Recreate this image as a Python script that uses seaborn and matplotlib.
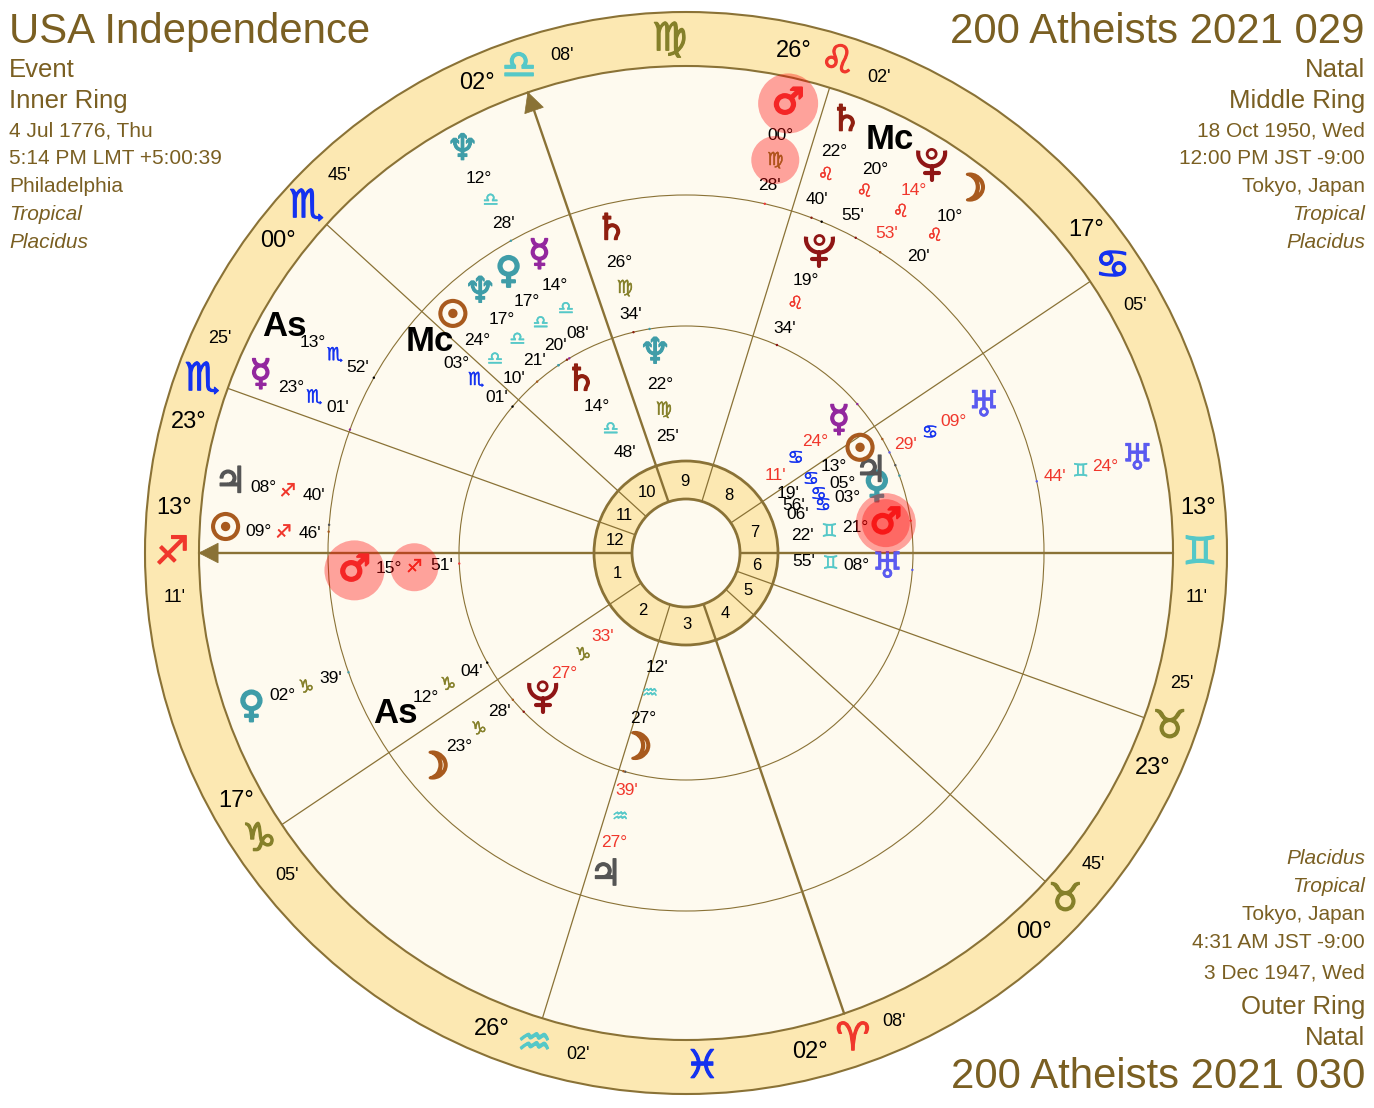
import numpy as np
import pandas as pd
import matplotlib.pyplot as plt
import matplotlib.patheffects as pe
import seaborn as sns
from matplotlib.patches import Arc, Circle, Polygon

# Zodiac order, used to turn sign + degree + minute into a longitude
signs = ['♈', '♉', '♊', '♋', '♌', '♍', '♎', '♏', '♐', '♑', '♒', '♓']

# House cusps 1 to 12
cusp_signs = ['♐', '♑', '♒', '♈', '♉', '♉', '♊', '♋', '♌', '♎', '♏', '♏']
cusp_deg = [13, 17, 26, 2, 0, 23, 13, 17, 26, 2, 0, 23]
cusp_min = [11, 5, 2, 8, 45, 25, 11, 5, 2, 8, 45, 25]
house_numbers = [str(i) for i in range(1, 13)]

# Outer ring: 200 Atheists 2021 030
outer_bodies = ['♂', '♄', 'Mc', '♇', '☽', '♅', '☉', '♃', '☿', 'As', '♆', '♀']
outer_deg = [0, 22, 20, 14, 10, 24, 9, 8, 23, 13, 12, 2]
outer_signs = ['♍', '♌', '♌', '♌', '♌', '♊', '♐', '♐', '♏', '♏', '♎', '♑']
outer_min = [28, 40, 55, 53, 20, 44, 46, 40, 1, 52, 28, 39]
outer_retro = [0, 0, 0, 1, 0, 1, 0, 0, 0, 0, 0, 0]

# Middle ring: 200 Atheists 2021 029
middle_bodies = ['♂', '♄', '☿', '♀', '♆', '☉', 'Mc', 'As', '☽', '♃', '♇', '♅']
middle_deg = [15, 26, 14, 17, 17, 24, 3, 12, 23, 27, 19, 9]
middle_signs = ['♐', '♍', '♎', '♎', '♎', '♎', '♏', '♑', '♑', '♒', '♌', '♋']
middle_min = [51, 34, 8, 20, 21, 10, 1, 4, 28, 39, 34, 29]
middle_retro = [0, 0, 0, 0, 0, 0, 0, 0, 0, 1, 0, 1]

# Inner ring: USA Independence
inner_bodies = ['♇', '☽', '♄', '♆', '♅', '♂', '♀', '♃', '☉', '☿']
inner_deg = [27, 27, 14, 22, 8, 21, 3, 5, 13, 24]
inner_signs = ['♑', '♒', '♎', '♍', '♊', '♊', '♋', '♋', '♋', '♋']
inner_min = [33, 12, 48, 25, 55, 22, 6, 56, 19, 11]
inner_retro = [1, 0, 0, 0, 0, 0, 0, 0, 0, 1]

# Header text
left_lines = ['USA Independence', 'Event', 'Inner Ring', '4 Jul 1776, Thu', '5:14 PM LMT +5:00:39',
              'Philadelphia', 'Tropical', 'Placidus']
right_lines = ['200 Atheists 2021 029', 'Natal', 'Middle Ring', '18 Oct 1950, Wed', '12:00 PM JST -9:00',
               'Tokyo, Japan', 'Tropical', 'Placidus']
bottom_lines = ['Placidus', 'Tropical', 'Tokyo, Japan', '4:31 AM JST -9:00', '3 Dec 1947, Wed',
                'Outer Ring', 'Natal', '200 Atheists 2021 030']

# Layout: angle each label stack is spread to, in degrees, and its radii in pixels
outer_angle = [77.2, 69.7, 63.7, 57.8, 51.9, 11.7, 177.1, 171.2, 157.3, 150.6, 119.0, 199.5]
middle_angle = [183.0, 103.0, 116.2, 122.3, 128.3, 134.6, 140.5, 209.0, 220.4, 256.0, 66.3, 26.2]
inner_angle = [224.8, 255.6, 121.3, 98.8, 355.8, 8.5, 19.1, 23.8, 30.5, 40.8]
outer_radii = (461, 428, 403, 377)
middle_radii = (332, 298, 272, 245)
inner_radii = (202, 171, 145, 118)

CX, CY = 686, 553
R_OUT, R_ZOD, R_MID, R_INN, R_WHEEL, R_HOLE = 541, 487, 358, 227, 92, 54

LINE = '#8a7236'
TITLE = '#7a5f22'
RING = '#fce8b2'
CREAM = '#fefaef'
RED = '#f0372c'

sign_colors = {'♈': '#f0372c', '♌': '#f0372c', '♐': '#f0372c',
               '♉': '#85802a', '♍': '#85802a', '♑': '#85802a',
               '♊': '#55c8c8', '♎': '#55c8c8', '♒': '#55c8c8',
               '♋': '#1432f0', '♏': '#1432f0', '♓': '#1432f0'}
body_colors = {'☉': '#a85a1e', '☽': '#a85a1e', '☿': '#93279e', '♀': '#3f9da8', '♂': '#ef3b3b',
               '♃': '#555555', '♄': '#8f1f10', '♅': '#5a5af0', '♆': '#3f9da8', '♇': '#8f1515',
               'As': '#000000', 'Mc': '#000000'}
# stroke added to each glyph, the open ones fill in quickly
body_weight = {'☉': 2.0, '☽': 2.0, '☿': 1.2, '♀': 1.5, '♂': 1.5, '♃': 1.0, '♄': 1.0, '♅': 0.4, '♆': 0.8}


def longitude(sign, deg, minute):
    return signs.index(sign) * 30 + deg + minute / 60


asc = longitude(cusp_signs[0], cusp_deg[0], cusp_min[0])


def chart_angle(lon):
    return (180 + lon - asc) % 360


def xy(angle, r):
    a = np.radians(angle)
    return CX + r * np.cos(a), CY - r * np.sin(a)


def heavy(width, color):
    return [pe.withStroke(linewidth=width, foreground=color)]


def draw_pluto(x, y, color):
    # the fonts here only have the PL monogram, this chart uses the orb and crescent form
    ax.add_patch(Circle((x, y - 9), 4.5, fc='none', ec=color, lw=2, zorder=8))
    ax.add_patch(Arc((x, y - 10), 27, 27, theta1=-10, theta2=190, ec=color, lw=3, zorder=8))
    ax.plot([x, x], [y + 3, y + 17], color=color, lw=3, solid_capstyle='round', zorder=8)
    ax.plot([x - 7, x + 7], [y + 10, y + 10], color=color, lw=3, solid_capstyle='round', zorder=8)


sns.set_theme(style='white')
plt.rcParams['font.family'] = ['Liberation Sans', 'DejaVu Sans']

fig = plt.figure(figsize=(13.74, 11.08), dpi=100)
ax = fig.add_axes([0, 0, 1, 1])
ax.set_xlim(0, 1374)
ax.set_ylim(1108, 0)
ax.set_axis_off()

# Rings
ax.add_patch(Circle((CX, CY), R_OUT, fc=RING, ec=LINE, lw=1.5, zorder=1))
ax.add_patch(Circle((CX, CY), R_ZOD, fc=CREAM, ec=LINE, lw=1.5, zorder=1))
ax.add_patch(Circle((CX, CY), R_MID, fc='none', ec=LINE, lw=0.8, zorder=2))
ax.add_patch(Circle((CX, CY), R_INN, fc='none', ec=LINE, lw=0.8, zorder=2))
ax.add_patch(Circle((CX, CY), R_WHEEL, fc=RING, ec=LINE, lw=2, zorder=3))
ax.add_patch(Circle((CX, CY), R_HOLE, fc=CREAM, ec=LINE, lw=2, zorder=5))

# Cusp spokes, the four angles are heavier
cusp_angles = [chart_angle(longitude(s, d, m)) for s, d, m in zip(cusp_signs, cusp_deg, cusp_min)]
rows = []
for i, ang in enumerate(cusp_angles):
    x0, y0 = xy(ang, R_HOLE)
    x1, y1 = xy(ang, R_ZOD)
    kind = 'heavy' if i in (0, 3, 6, 9) else 'thin'
    rows.append({'cusp': i, 'x': x0, 'y': y0, 'kind': kind})
    rows.append({'cusp': i, 'x': x1, 'y': y1, 'kind': kind})
spokes = pd.DataFrame(rows)
sns.lineplot(data=spokes[spokes.kind == 'thin'], x='x', y='y', units='cusp', estimator=None, sort=False,
             color=LINE, linewidth=0.9, ax=ax, zorder=4)
sns.lineplot(data=spokes[spokes.kind == 'heavy'], x='x', y='y', units='cusp', estimator=None, sort=False,
             color=LINE, linewidth=1.7, ax=ax, zorder=4)
ax.set_xlim(0, 1374)
ax.set_ylim(1108, 0)

# Arrow heads on Asc and Mc
for ang in (cusp_angles[0], cusp_angles[9]):
    tip = xy(ang, R_ZOD)
    back1 = xy(ang - 1.2, R_ZOD - 19)
    back2 = xy(ang + 1.2, R_ZOD - 19)
    ax.add_patch(Polygon([tip, back1, back2], closed=True, fc=LINE, ec=LINE, lw=0.5, zorder=6))

# House numbers
for i, label in enumerate(house_numbers):
    a0 = cusp_angles[i]
    a1 = cusp_angles[(i + 1) % 12]
    if a1 < a0:
        a1 += 360
    x, y = xy((a0 + a1) / 2, 72)
    ax.text(x, y, label, ha='center', va='center', fontsize=12, color='black', zorder=7)

# Zodiac ring labels
for i, ang in enumerate(cusp_angles):
    x, y = xy(ang, 514)
    ax.text(x, y, cusp_signs[i], ha='center', va='center', fontsize=28, family='DejaVu Sans',
            color=sign_colors[cusp_signs[i]], path_effects=heavy(0.9, sign_colors[cusp_signs[i]]), zorder=7)
    step = -5 if i < 6 else 5
    x, y = xy(ang + step, 514)
    ax.text(x, y, f'{cusp_deg[i]:02d}°', ha='center', va='center', fontsize=17, color='black', zorder=7)
    x, y = xy(ang - step, 513)
    ax.text(x, y, f"{cusp_min[i]:02d}'", ha='center', va='center', fontsize=13, color='black', zorder=7)

# Signs with no cusp in them sit at mid sign
for s in signs:
    if s not in cusp_signs:
        x, y = xy(chart_angle(longitude(s, 15, 0)), 514)
        ax.text(x, y, s, ha='center', va='center', fontsize=28, family='DejaVu Sans',
                color=sign_colors[s], path_effects=heavy(0.9, sign_colors[s]), zorder=7)


def draw_stack(bodies, degs, sgns, mins, retro, angles, radii, tick_r):
    tick_rows = []
    for i, body in enumerate(bodies):
        ang = angles[i]
        text_color = RED if retro[i] else 'black'
        x, y = xy(ang, radii[0])
        if body in ('As', 'Mc'):
            ax.text(x, y, body, ha='center', va='center', fontsize=25, fontweight='bold',
                    color='black', zorder=8)
        elif body == '♇':
            draw_pluto(x, y, body_colors[body])
        else:
            ax.text(x, y, body, ha='center', va='center', fontsize=26, family='DejaVu Sans',
                    color=body_colors[body], path_effects=heavy(body_weight[body], body_colors[body]), zorder=8)
        x, y = xy(ang, radii[1])
        ax.text(x, y, f'{degs[i]:02d}°', ha='center', va='center', fontsize=12.5, color=text_color, zorder=8)
        x, y = xy(ang, radii[2])
        ax.text(x, y, sgns[i], ha='center', va='center', fontsize=13, family='DejaVu Sans',
                color=sign_colors[sgns[i]], path_effects=heavy(0.3, sign_colors[sgns[i]]), zorder=8)
        x, y = xy(ang, radii[3])
        ax.text(x, y, f"{mins[i]:02d}'", ha='center', va='center', fontsize=12.5, color=text_color, zorder=8)
        tx, ty = xy(chart_angle(longitude(sgns[i], degs[i], mins[i])), tick_r)
        tick_rows.append({'x': tx, 'y': ty, 'body': body})
    ticks = pd.DataFrame(tick_rows)
    sns.scatterplot(data=ticks, x='x', y='y', hue='body', palette=body_colors, s=3, linewidth=0,
                    legend=False, ax=ax, zorder=6)


draw_stack(outer_bodies, outer_deg, outer_signs, outer_min, outer_retro, outer_angle, outer_radii, R_MID)
draw_stack(middle_bodies, middle_deg, middle_signs, middle_min, middle_retro, middle_angle, middle_radii, R_INN)
draw_stack(inner_bodies, inner_deg, inner_signs, inner_min, inner_retro, inner_angle, inner_radii, R_INN)
ax.set_xlabel('')
ax.set_ylabel('')

# Red highlights on Mars and the signs it sits in
highlights = [(outer_angle[0], outer_radii[0], 30), (outer_angle[0], outer_radii[2], 24),
              (middle_angle[0], middle_radii[0], 30), (middle_angle[0], middle_radii[2], 24),
              (inner_angle[5], inner_radii[0], 30), (inner_angle[5], inner_radii[0], 24)]
for ang, r, size in highlights:
    ax.add_patch(Circle(xy(ang, r), size, fc='#ff0000', ec='none', alpha=0.35, zorder=9))

# Header blocks
left_y = [32, 70, 101, 131, 159, 187, 215, 243]
sizes = [30.2, 18.5, 18.5, 15, 15, 15, 15, 15]
for i, line in enumerate(left_lines):
    ax.text(9, left_y[i], line, ha='left', va='center', fontsize=sizes[i], color=TITLE,
            style='italic' if i >= 6 else 'normal')
    ax.text(1365, left_y[i], right_lines[i], ha='right', va='center', fontsize=sizes[i], color=TITLE,
            style='italic' if i >= 6 else 'normal')

bottom_y = [859, 887, 915, 943, 973, 1007, 1038, 1077]
for i, line in enumerate(bottom_lines):
    ax.text(1365, bottom_y[i], line, ha='right', va='center', fontsize=sizes[::-1][i], color=TITLE,
            style='italic' if i < 2 else 'normal')

fig.savefig('out.png', dpi=100, facecolor='white')
